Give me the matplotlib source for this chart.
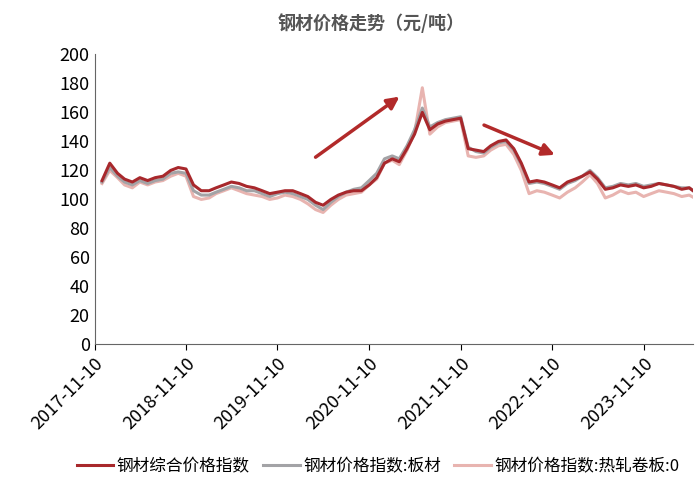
import matplotlib
matplotlib.use("Agg")
import matplotlib.pyplot as plt
import pandas as pd

plt.rcParams['font.family'] = ['Noto Sans CJK SC', 'DejaVu Sans']

dates = pd.date_range("2017-11-10", periods=79, freq="MS") + pd.Timedelta(days=9)
composite = [113,125,118,114,112,115,113,115,116,120,122,121,110,106,106,108,110,112,111,109,108,106,104,105,106,106,
             104,102,98,96,100,103,105,106,106,110,115,125,128,126,135,145,160,148,152,154,155,156,135,134,
             133,137,140,141,135,125,112,113,112,110,108,112,114,116,119,114,107,108,110,109,110,108,109,111,110,109,107,108,104]
plate = [112,122,116,112,110,113,111,113,114,118,119,118,106,103,103,105,107,109,108,106,106,104,102,104,105,104,
         102,100,96,93,98,102,105,107,108,113,118,128,130,128,137,148,163,150,153,155,156,157,136,133,
         132,136,139,140,134,124,111,112,111,109,107,111,113,116,120,115,108,109,111,110,111,109,110,111,110,109,108,108,104]
hrc = [111,120,115,110,108,112,110,112,113,116,118,116,102,100,101,104,106,108,106,104,103,102,100,101,103,102,
       100,97,93,91,96,100,103,104,105,110,114,125,127,124,134,146,177,145,150,153,154,155,130,129,
       130,134,137,138,131,120,104,106,105,103,101,105,108,112,117,111,101,103,106,104,105,102,104,106,105,104,102,103,100]

fig = plt.figure(figsize=(7, 4.9), dpi=100)
ax = fig.add_axes([0.135, 0.297, 0.855, 0.592])
ax.plot(dates, hrc, color="#e8b4b0", lw=2.2, label="钢材价格指数:热轧卷板:0")
ax.plot(dates, plate, color="#a3a3a6", lw=2.2, label="钢材价格指数:板材")
ax.plot(dates, composite, color="#a8282c", lw=2.2, label="钢材综合价格指数")
ax.set_ylim(0, 200)
ax.set_yticks(range(0, 201, 20))
ax.set_xlim(pd.Timestamp("2017-11-10"), pd.Timestamp("2024-05-25"))
ticks = [pd.Timestamp(f"{y}-11-10") for y in range(2017, 2024)]
ax.set_xticks(ticks)
ax.set_xticklabels([t.strftime("%Y-%m-%d") for t in ticks], rotation=45, ha="right", rotation_mode="anchor", fontsize=13)
ax.tick_params(axis='y', labelsize=13, length=0)
ax.tick_params(axis='x', length=4)
for s in ["top", "right"]:
    ax.spines[s].set_visible(False)
ax.spines["left"].set_color("#666")
ax.spines["bottom"].set_color("#666")
fig.text(0.53, 0.94, "钢材价格走势（元/吨）", ha="center", fontsize=13, fontweight="bold", color="#555")
ax.annotate("", xy=(pd.Timestamp("2021-03-20"), 172), xytext=(pd.Timestamp("2020-04-01"), 128),
            arrowprops=dict(arrowstyle="-|>", color="#b22a2a", lw=2.5, mutation_scale=18))
ax.annotate("", xy=(pd.Timestamp("2022-12-01"), 130), xytext=(pd.Timestamp("2022-02-01"), 152),
            arrowprops=dict(arrowstyle="-|>", color="#b22a2a", lw=2.5, mutation_scale=18))
h, l = ax.get_legend_handles_labels()
fig.legend(h[::-1], l[::-1], loc="lower center", bbox_to_anchor=(0.54, 0.0), ncol=3, frameon=False,
           fontsize=12, handlelength=2.2, columnspacing=0.8, handletextpad=0.2)
fig.savefig("out.png")
